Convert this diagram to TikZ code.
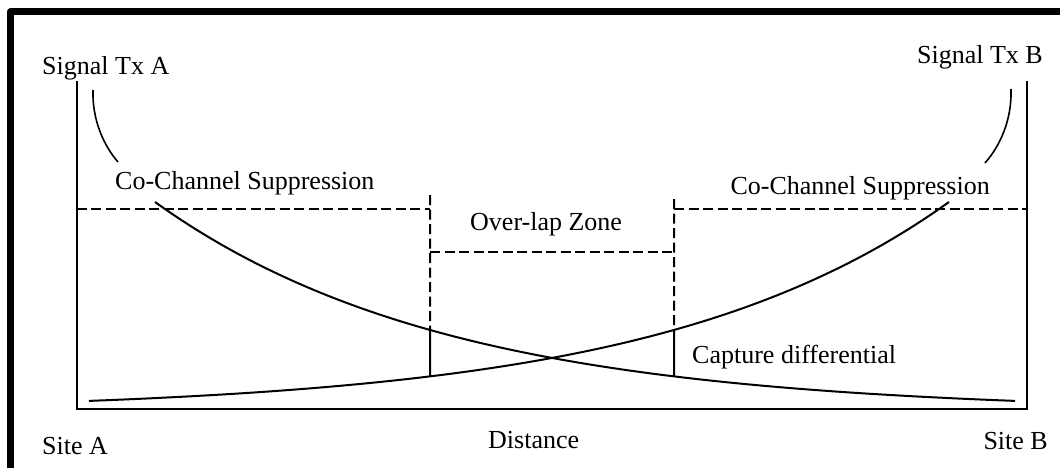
\documentclass[tikz,border=0pt]{standalone}
\usepackage{fontspec}
\setmainfont{Liberation Serif}
\usetikzlibrary{intersections}

\tikzset{
  lbl/.style={inner sep=0pt, font=\fontsize{26}{31}\selectfont},
  axisline/.style={line width=2pt, line join=miter},
  sigcurve/.style={line width=2pt},
  zoneline/.style={line width=2pt, dash pattern=on 10pt off 4.5pt},
  leader/.style={line width=1.6pt},
  frameline/.style={line width=6.5pt, line join=round}
}

\begin{document}
\begin{tikzpicture}[x=1pt, y=-1pt]
  \useasboundingbox (0,0) rectangle (1060,468);
  \fill[white] (0,0) rectangle (1060,468);

  % heavy outer frame (only top and left edges lie on the page)
  \draw[frameline] (10.7,520) -- (10.7,11.5) -- (1120,11.5);

  % open-topped plot box
  \coordinate (axTL) at (76.5,81);
  \coordinate (axBL) at (76.5,409);
  \coordinate (axBR) at (1027,409);
  \coordinate (axTR) at (1027,81);
  \draw[axisline] (axTL) -- (axBL) -- (axBR) -- (axTR);

  % signal strength curves of the two transmitters
  \draw[sigcurve, name path=curveA]
    plot[domain=155:1015, samples=120, smooth]
      (\x, {412-210*exp(-0.003419*(\x-155))});
  \draw[sigcurve, name path=curveB]
    plot[domain=89:949, samples=120, smooth]
      (\x, {412-210*exp(-0.003419*(949-\x))});

  % zone boundaries
  \coordinate (zL) at (430,195);
  \coordinate (zR) at (674,199);
  \path[name path=vL] (430,190) -- (430,430);
  \path[name path=vR] (674,190) -- (674,430);
  \path[name intersections={of=vL and curveA, by=pA1}];
  \path[name intersections={of=vL and curveB, by=pB1}];
  \path[name intersections={of=vR and curveA, by=pA2}];
  \path[name intersections={of=vR and curveB, by=pB2}];

  \coordinate (hL0) at (76.5,209);
  \coordinate (hL1) at (430,209);
  \coordinate (hM0) at (430,252);
  \coordinate (hM1) at (674,252);
  \coordinate (hR0) at (674,209);
  \coordinate (hR1) at (1027,209);

  \draw[zoneline] (hL0) -- (hL1);
  \draw[zoneline] (hM0) -- (hM1);
  \draw[zoneline] (hR0) -- (hR1);
  \draw[zoneline] (zL) -- (pA1);
  \draw[zoneline] (zR) -- (pB2);
  \draw[sigcurve] (pA1) -- (pB1);
  \draw[sigcurve] (pB2) -- (pA2);

  % labels
  \node[lbl, anchor=base west] (txA) at (42,75) {Signal Tx A};
  \node[lbl, anchor=base east] (txB) at (1043,64) {Signal Tx B};
  \node[lbl, anchor=base west] (ccL) at (115,189) {Co-Channel Suppression};
  \node[lbl, anchor=base east] (ccR) at (990,194) {Co-Channel Suppression};
  \node[lbl, anchor=base west] (olz) at (470,230) {Over-lap Zone};
  \node[lbl, anchor=base west] (cap) at (692,363) {Capture differential};
  \node[lbl, anchor=base west] (siteA) at (42,454) {Site A};
  \node[lbl, anchor=base east] (siteB) at (1048,449) {Site B};
  \node[lbl, anchor=base west] (dist) at (488,448) {Distance};

  % leaders from the transmitter labels
  \coordinate (lA0) at (93,90);
  \coordinate (lA1) at (118,162);
  \coordinate (lB0) at (1011,89);
  \coordinate (lB1) at (985,163);
  \draw[leader] (lA0) .. controls (92,120) and (104,146) .. (lA1);
  \draw[leader] (lB0) .. controls (1012,120) and (1000,146) .. (lB1);
\end{tikzpicture}
\end{document}
